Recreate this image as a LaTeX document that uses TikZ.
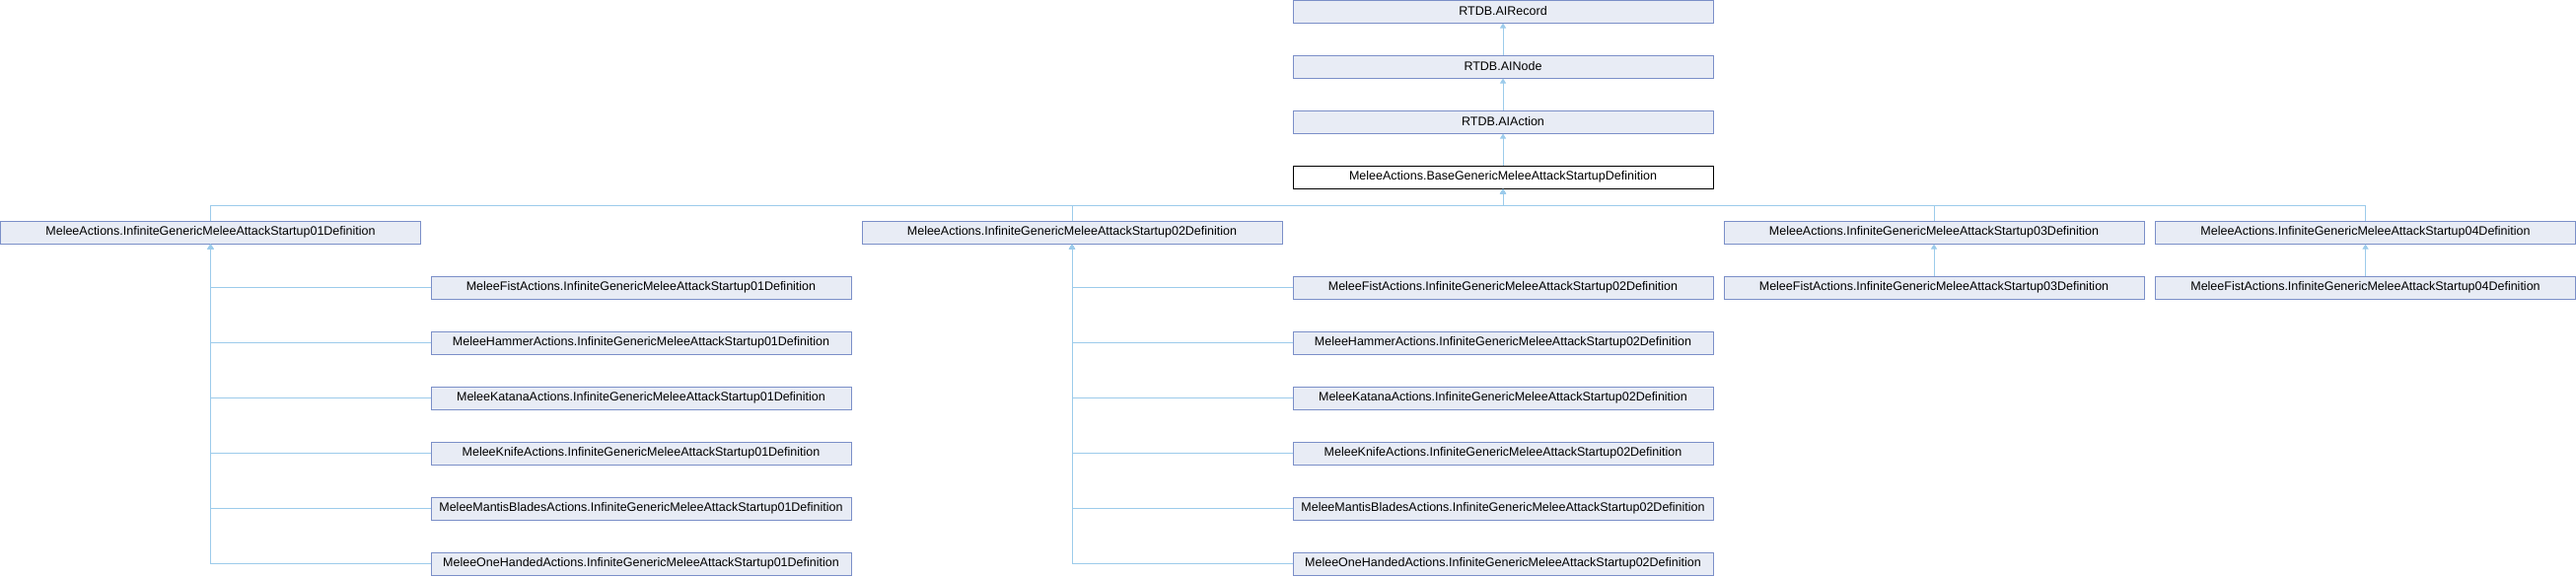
\documentclass[tikz,border=0pt]{standalone}
\usepackage{fontspec}
\setmainfont{Liberation Sans}
\usetikzlibrary{arrows.meta}
\definecolor{boxfill}{HTML}{E8ECF5}
\definecolor{boxdraw}{HTML}{7B8FC8}
\definecolor{edge}{HTML}{9CCBEB}
\tikzset{
  cls/.style={draw=boxdraw, fill=boxfill, line width=1pt, minimum width=426pt, minimum height=23pt, inner sep=0pt, font=\fontsize{12.5}{14}\selectfont},
  basecls/.style={cls, draw=black, fill=white},
  inh/.style={draw=edge, line width=1pt, -{Triangle[width=6pt,length=5pt]}}
}
\begin{document}
\begin{tikzpicture}[x=1pt,y=-1pt]
\useasboundingbox (0,0) rectangle (2612,584);
% rows: top = 56k, centre = 56k+11.5
\node[cls] (rec) at (1524,11.5) {RTDB.AIRecord};
\node[cls] (aino) at (1524,67.5) {RTDB.AINode};
\node[cls] (act) at (1524,123.5) {RTDB.AIAction};
\node[basecls] (base) at (1524,179.5) {MeleeActions.BaseGenericMeleeAttackStartupDefinition};
\node[cls] (s1) at (213.5,235.5) {MeleeActions.InfiniteGenericMeleeAttackStartup01Definition};
\node[cls] (s2) at (1087,235.5) {MeleeActions.InfiniteGenericMeleeAttackStartup02Definition};
\node[cls] (s3) at (1961,235.5) {MeleeActions.InfiniteGenericMeleeAttackStartup03Definition};
\node[cls] (s4) at (2398.5,235.5) {MeleeActions.InfiniteGenericMeleeAttackStartup04Definition};
\node[cls] (f3) at (1961,291.5) {MeleeFistActions.InfiniteGenericMeleeAttackStartup03Definition};
\node[cls] (f4) at (2398.5,291.5) {MeleeFistActions.InfiniteGenericMeleeAttackStartup04Definition};
% children of 01
\node[cls] (a1) at (650,291.5) {MeleeFistActions.InfiniteGenericMeleeAttackStartup01Definition};
\node[cls] (a2) at (650,347.5) {MeleeHammerActions.InfiniteGenericMeleeAttackStartup01Definition};
\node[cls] (a3) at (650,403.5) {MeleeKatanaActions.InfiniteGenericMeleeAttackStartup01Definition};
\node[cls] (a4) at (650,459.5) {MeleeKnifeActions.InfiniteGenericMeleeAttackStartup01Definition};
\node[cls] (a5) at (650,515.5) {MeleeMantisBladesActions.InfiniteGenericMeleeAttackStartup01Definition};
\node[cls] (a6) at (650,571.5) {MeleeOneHandedActions.InfiniteGenericMeleeAttackStartup01Definition};
% children of 02
\node[cls] (b1) at (1524,291.5) {MeleeFistActions.InfiniteGenericMeleeAttackStartup02Definition};
\node[cls] (b2) at (1524,347.5) {MeleeHammerActions.InfiniteGenericMeleeAttackStartup02Definition};
\node[cls] (b3) at (1524,403.5) {MeleeKatanaActions.InfiniteGenericMeleeAttackStartup02Definition};
\node[cls] (b4) at (1524,459.5) {MeleeKnifeActions.InfiniteGenericMeleeAttackStartup02Definition};
\node[cls] (b5) at (1524,515.5) {MeleeMantisBladesActions.InfiniteGenericMeleeAttackStartup02Definition};
\node[cls] (b6) at (1524,571.5) {MeleeOneHandedActions.InfiniteGenericMeleeAttackStartup02Definition};
% edges
\draw[inh] (aino.north) -- (rec.south);
\draw[inh] (act.north) -- (aino.south);
\draw[inh] (base.north) -- (act.south);
\coordinate (bus) at (1524,208);
\foreach \s in {s1,s2,s3,s4}{\draw[inh] (\s.north) |- (bus) -- (base.south);}
\foreach \c in {a1,a2,a3,a4,a5,a6}{\draw[inh] (\c.west) -| (s1.south);}
\foreach \c in {b1,b2,b3,b4,b5,b6}{\draw[inh] (\c.west) -| (s2.south);}
\draw[inh] (f3.north) -- (s3.south);
\draw[inh] (f4.north) -- (s4.south);
\end{tikzpicture}
\end{document}
